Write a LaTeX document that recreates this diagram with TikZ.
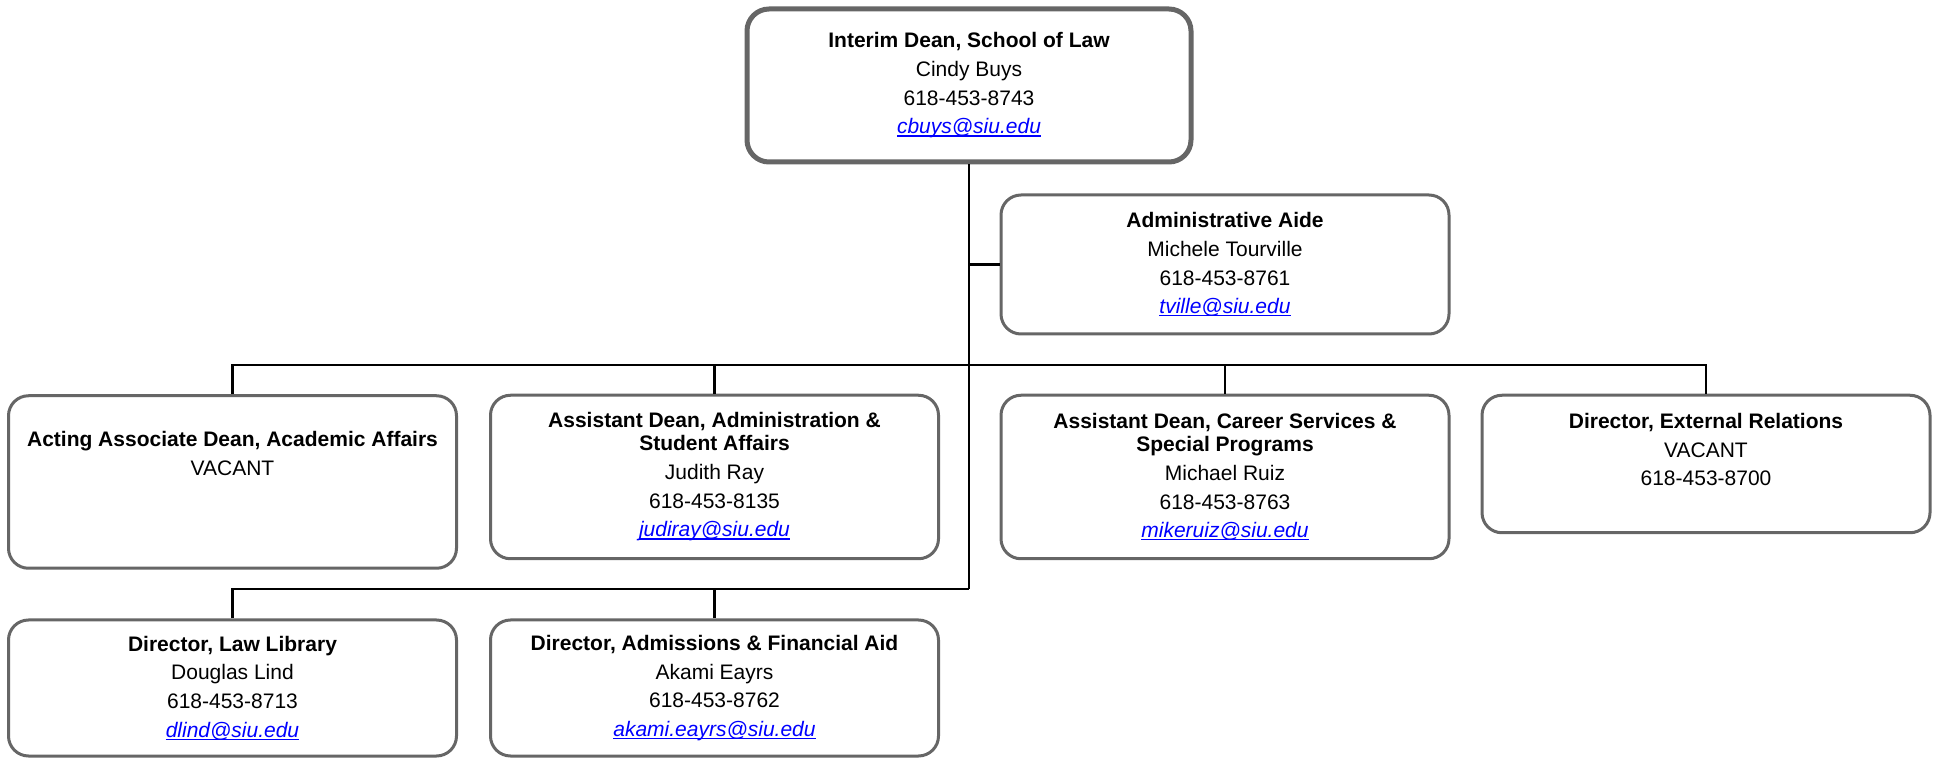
\documentclass[tikz,border=0pt]{standalone}
\usepackage{fontspec}
\setmainfont{Liberation Sans}
\usetikzlibrary{positioning}
\definecolor{boxgray}{HTML}{666666}
\newcommand{\mail}[1]{\textcolor{blue}{\setbox0\hbox{\textit{#1}}%
    \rlap{\rule[-1.3pt]{\wd0}{0.6pt}}\box0}}

\begin{document}
\begin{tikzpicture}[x=0.5pt, y=-0.5pt]

    % styles of the boxes and of the lines between them
    \tikzset{
        post/.style={draw=boxgray, line width=1.5pt, rounded corners=10pt,
            fill=white, align=center, minimum width=224pt, inner sep=0pt,
            font=\fontsize{10.5}{14.35}\selectfont},
        head/.style={post, line width=2.5pt, rounded corners=11pt,
            minimum width=222pt},
        link/.style={line width=1.2pt, black}
    }

    \useasboundingbox (0,0) rectangle (1939,758);

    % dean and aide
    \node[head, minimum height=76.5pt] (dean) at (969,85.5)
    {\textbf{Interim Dean, School of Law}\\Cindy Buys\\618-453-8743\\\mail{cbuys@siu.edu}};
    \node[post, minimum height=69.5pt] (aide) at (1225,264.5)
    {\textbf{Administrative Aide}\\Michele Tourville\\618-453-8761\\\mail{tville@siu.edu}};

    % first row
    \node[post, minimum height=86.25pt] (aad) at (232.5,482)
    {\textbf{Acting Associate Dean, Academic Affairs}\\VACANT\\~\\~};
    \node[post, minimum height=81.75pt] (adsa) at (714.5,477)
    {\textbf{Assistant Dean, Administration \&}\\[-2.85pt]\textbf{Student Affairs}\\Judith Ray\\618-453-8135\\\mail{judiray@siu.edu}};
    \node[post, minimum height=81.75pt] (adcs) at (1225,477)
    {\textbf{Assistant Dean, Career Services \&}\\[-2.85pt]\textbf{Special Programs}\\Michael Ruiz\\618-453-8763\\\mail{mikeruiz@siu.edu}};
    \node[post, minimum height=68.75pt] (der) at (1706,464)
    {\textbf{Director, External Relations}\\VACANT\\618-453-8700\\~};

    % second row
    \node[post, minimum height=68pt] (dll) at (232.5,688)
    {\textbf{Director, Law Library}\\Douglas Lind\\618-453-8713\\\mail{dlind@siu.edu}};
    \node[post, minimum height=68pt] (daf) at (714.5,688)
    {\textbf{Director, Admissions \& Financial Aid}\\Akami Eayrs\\618-453-8762\\\mail{akami.eayrs@siu.edu}};

    \coordinate (bus) at (969,365);
    \coordinate (bus2) at (969,589);

    \begin{scope}[link]
        \draw (dean.south) -- (bus2);
        \draw (dean.south) |- (aide.west);
        \draw (aad.north) |- (bus) -| (der.north);
        \draw (adsa.north) -- (adsa.north |- bus);
        \draw (adcs.north) -- (adcs.north |- bus);
        \draw (dll.north) |- (bus2);
        \draw (daf.north) -- (daf.north |- bus2);
    \end{scope}

\end{tikzpicture}
\end{document}
